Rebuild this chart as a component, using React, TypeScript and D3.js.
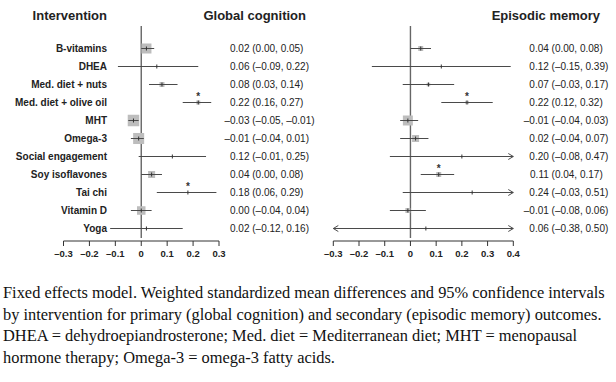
import React from "react";
import * as d3 from "d3";

const interventions = [
  "B-vitamins",
  "DHEA",
  "Med. diet + nuts",
  "Med. diet + olive oil",
  "MHT",
  "Omega-3",
  "Social engagement",
  "Soy isoflavones",
  "Tai chi",
  "Vitamin D",
  "Yoga",
];

// Global cognition
const gcEst = [0.02, 0.06, 0.08, 0.22, -0.03, -0.01, 0.12, 0.04, 0.18, 0.0, 0.02];
const gcLo = [0.0, -0.09, 0.03, 0.16, -0.05, -0.04, -0.01, 0.0, 0.06, -0.04, -0.12];
const gcHi = [0.05, 0.22, 0.14, 0.27, -0.01, 0.01, 0.25, 0.08, 0.29, 0.04, 0.16];
const gcWeight = [19, 0.4, 4.7, 3, 25, 23, 0.4, 9.3, 0.4, 13.7, 0.4];
const gcSig = [false, false, false, true, false, false, false, false, true, false, false];
const gcTicks = [-0.3, -0.2, -0.1, 0, 0.1, 0.2, 0.3];

// Episodic memory
const emEst = [0.04, 0.12, 0.07, 0.22, -0.01, 0.02, 0.2, 0.11, 0.24, -0.01, 0.06];
const emLo = [0.0, -0.15, -0.03, 0.12, -0.04, -0.04, -0.08, 0.04, -0.03, -0.08, -0.38];
const emHi = [0.08, 0.39, 0.17, 0.32, 0.03, 0.07, 0.47, 0.17, 0.51, 0.06, 0.5];
const emWeight = [9.7, 0.9, 4.8, 4.8, 38.8, 19, 0.9, 9.7, 0.9, 9.7, 0.9];
const emSig = [false, false, false, true, false, false, false, true, false, false, false];
const emTicks = [-0.3, -0.2, -0.1, 0, 0.1, 0.2, 0.3, 0.4];

const captionLines = [
  "Fixed effects model. Weighted standardized mean differences and 95% confidence intervals",
  "by intervention for primary (global cognition) and secondary (episodic memory) outcomes.",
  "DHEA = dehydroepiandrosterone; Med. diet = Mediterranean diet; MHT = menopausal",
  "hormone therapy; Omega-3 = omega-3 fatty acids.",
];

const SANS = "'Liberation Sans', Arial, Helvetica, sans-serif";
const SERIF = "'Liberation Serif', 'Times New Roman', serif";

const fmt = (v: number, digits = 2) => {
  const s = Math.abs(v).toFixed(digits);
  return v < 0 ? "\u2013" + s : s;
};

const y = d3.scalePoint<string>().domain(interventions).range([48.5, 228.5]);

type PanelProps = {
  est: number[];
  lo: number[];
  hi: number[];
  weight: number[];
  sig: boolean[];
  ticks: number[];
  range: [number, number];
  maxSide: number;
  title: string;
  titleEnd: number;
  valueX: number;
};

function Panel(p: PanelProps) {
  const domain = [p.ticks[0], p.ticks[p.ticks.length - 1]];
  const x = d3.scaleLinear().domain(domain).range(p.range);
  const side = d3
    .scaleSqrt()
    .domain([0, d3.max(p.weight) as number])
    .range([0, p.maxSide]);
  const axisY = 241;
  const lineColor = "#4a4a4a";
  return (
    <g>
      <text
        x={p.titleEnd}
        y={20}
        textAnchor="end"
        fontFamily={SANS}
        fontWeight="bold"
        fontSize={13}
        fill="#222"
      >
        {p.title}
      </text>
      {/* zero line */}
      <line x1={x(0)} x2={x(0)} y1={26} y2={238} stroke="#666" strokeWidth={1.4} />
      {interventions.map((name, i) => {
        const cy = y(name) as number;
        const s = side(p.weight[i]);
        const lo = Math.max(p.lo[i], domain[0]);
        const hi = Math.min(p.hi[i], domain[1]);
        const clipLo = p.lo[i] < domain[0];
        const clipHi = p.hi[i] > domain[1];
        return (
          <g key={name}>
            {s > 2 && (
              <rect
                x={x(p.est[i]) - s / 2}
                y={cy - s / 2}
                width={s}
                height={s}
                fill="#bdbdbd"
              />
            )}
            <line x1={x(lo)} x2={x(hi)} y1={cy} y2={cy} stroke={lineColor} strokeWidth={1} />
            {clipHi && (
              <path
                d={`M${x(hi) - 5},${cy - 3}L${x(hi)},${cy}L${x(hi) - 5},${cy + 3}`}
                fill="none"
                stroke={lineColor}
                strokeWidth={1}
              />
            )}
            {clipLo && (
              <path
                d={`M${x(lo) + 5},${cy - 3}L${x(lo)},${cy}L${x(lo) + 5},${cy + 3}`}
                fill="none"
                stroke={lineColor}
                strokeWidth={1}
              />
            )}
            <line
              x1={x(p.est[i])}
              x2={x(p.est[i])}
              y1={cy - 2}
              y2={cy + 2}
              stroke="#333"
              strokeWidth={1}
            />
            {p.sig[i] && (
              <text
                x={x(p.est[i])}
                y={cy - 2.5}
                textAnchor="middle"
                fontFamily={SANS}
                fontWeight="bold"
                fontSize={10}
                fill="#333"
              >
                *
              </text>
            )}
            <text
              x={p.valueX}
              y={cy}
              dy="0.35em"
              textAnchor="end"
              fontFamily={SANS}
              fontSize={10}
              fill="#222"
            >
              {fmt(p.est[i])}
            </text>
            <text
              x={p.valueX}
              y={cy}
              dy="0.35em"
              textAnchor="start"
              fontFamily={SANS}
              fontSize={10}
              fill="#222"
              style={{ whiteSpace: "pre" }}
            >
              {` (${fmt(p.lo[i])}, ${fmt(p.hi[i])})`}
            </text>
          </g>
        );
      })}
      {/* axis */}
      <line x1={p.range[0]} x2={p.range[1]} y1={axisY} y2={axisY} stroke="#333" strokeWidth={1} />
      {p.ticks.map((t) => (
        <g key={t}>
          <line x1={x(t)} x2={x(t)} y1={axisY} y2={axisY + 5} stroke="#333" strokeWidth={1} />
          <text
            x={x(t)}
            y={257}
            textAnchor="middle"
            fontFamily={SANS}
            fontWeight="bold"
            fontSize={9.5}
            fill="#222"
          >
            {t === 0 ? "0" : fmt(t, 1)}
          </text>
        </g>
      ))}
    </g>
  );
}

export default function App() {
  return (
    <svg
      width={616}
      height={382}
      viewBox="0 0 616 382"
      style={{ position: "absolute", left: 0, top: 0, background: "#fff" }}
    >
      <rect width={616} height={382} fill="#fff" />
      <text
        x={107}
        y={20}
        textAnchor="end"
        fontFamily={SANS}
        fontWeight="bold"
        fontSize={13}
        fill="#222"
      >
        Intervention
      </text>
      {interventions.map((name) => (
        <text
          key={name}
          x={107}
          y={y(name) as number}
          dy="0.35em"
          textAnchor="end"
          fontFamily={SANS}
          fontWeight="bold"
          fontSize={10}
          fill="#222"
        >
          {name}
        </text>
      ))}
      <Panel
        est={gcEst}
        lo={gcLo}
        hi={gcHi}
        weight={gcWeight}
        sig={gcSig}
        ticks={gcTicks}
        range={[63.5, 219]}
        maxSide={11.5}
        title="Global cognition"
        titleEnd={306}
        valueX={249.5}
      />
      <Panel
        est={emEst}
        lo={emLo}
        hi={emHi}
        weight={emWeight}
        sig={emSig}
        ticks={emTicks}
        range={[333.3, 513.3]}
        maxSide={10}
        title="Episodic memory"
        titleEnd={600}
        valueX={548.8}
      />
      {captionLines.map((line, i) => (
        <text
          key={i}
          x={3}
          y={298 + i * 21.6}
          fontFamily={SERIF}
          fontSize={16.4}
          fill="#111"
        >
          {line}
        </text>
      ))}
    </svg>
  );
}
